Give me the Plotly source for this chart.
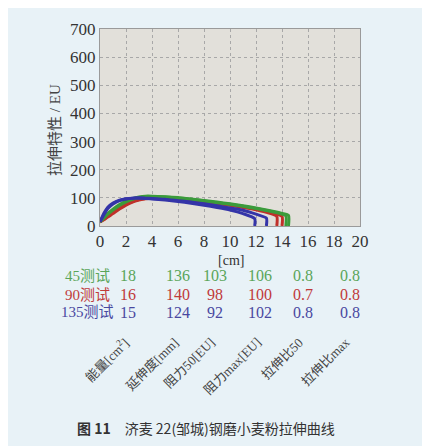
import plotly.graph_objects as go

# ---- curve data ----
green1_x = [0, 0.3, 0.6, 1, 1.5, 2, 2.5, 3, 3.5, 4, 5, 6, 7, 8, 9, 10, 11, 12, 13, 14, 14.5, 14.5]
green1_y = [15, 30, 45, 60, 76, 88, 97, 103, 106, 106, 104, 101, 96, 91, 85, 79, 72, 64, 55, 45, 38, 0]
green2_x = [0, 0.3, 0.6, 1, 1.5, 2, 2.5, 3, 3.5, 4, 5, 6, 7, 8, 9, 10, 11, 12, 13, 14, 14.3, 14.3]
green2_y = [15, 28, 42, 57, 73, 86, 95, 101, 104, 105, 103, 99, 95, 89, 83, 77, 70, 62, 53, 42, 36, 0]

red1_x = [0, 0.3, 0.6, 1, 1.5, 2, 2.5, 3, 3.5, 4, 5, 6, 7, 8, 9, 10, 11, 12, 13, 14, 14]
red1_y = [15, 22, 32, 44, 60, 74, 85, 92, 97, 99, 99, 96, 92, 87, 81, 75, 68, 60, 50, 34, 0]
red2_x = [0, 0.3, 0.6, 1, 1.5, 2, 2.5, 3, 3.5, 4, 5, 6, 7, 8, 9, 10, 11, 12, 13, 13.6, 13.6]
red2_y = [14, 24, 35, 48, 63, 77, 87, 94, 98, 100, 98, 95, 91, 86, 80, 74, 66, 58, 46, 34, 0]

blue1_x = [0, 0.3, 0.6, 1, 1.5, 2, 2.5, 3, 3.5, 4, 5, 6, 7, 8, 9, 10, 11, 12, 12.8, 12.8]
blue1_y = [15, 40, 62, 78, 90, 96, 99, 100, 99, 98, 95, 90, 85, 79, 72, 64, 56, 42, 28, 0]
blue2_x = [0, 0.3, 0.6, 1, 1.5, 2, 2.5, 3, 3.5, 4, 5, 6, 7, 8, 9, 10, 11, 11.9, 11.9]
blue2_y = [15, 45, 67, 82, 92, 97, 99, 99, 98, 96, 92, 87, 81, 74, 66, 57, 44, 26, 0]

# ---- table data ----
test_labels = ["45测试", "90测试", "135测试"]
energy = ["18", "16", "15"]
extensibility = ["136", "140", "124"]
resistance50 = ["103", "98", "92"]
resistance_max = ["106", "100", "102"]
ratio50 = ["0.8", "0.7", "0.8"]
ratio_max = ["0.8", "0.8", "0.8"]
column_labels = ["能量[cm<sup>2</sup>]", "延伸度[mm]", "阻力50[EU]", "阻力max[EU]", "拉伸比50", "拉伸比max"]

x_ticks = [0, 2, 4, 6, 8, 10, 12, 14, 16, 18, 20]
y_ticks = [0, 100, 200, 300, 400, 500, 600, 700]

GREEN = "#3b9b3b"
RED = "#c0302a"
BLUE = "#3434a8"
TXT_COLORS = ["#5aa55a", "#c03a3a", "#4848a0"]

SERIF = "Liberation Serif, Times New Roman, serif"
MIXED = "Liberation Serif, Noto Sans CJK SC, serif"
CJK = "Noto Sans CJK SC"

fig = go.Figure()
for xs, ys, c in [(red1_x, red1_y, RED), (red2_x, red2_y, RED),
                  (green1_x, green1_y, GREEN), (green2_x, green2_y, GREEN),
                  (blue1_x, blue1_y, BLUE), (blue2_x, blue2_y, BLUE)]:
    fig.add_trace(go.Scatter(x=xs, y=ys, mode="lines",
                             line=dict(color=c, width=3, shape="spline", smoothing=0.6),
                             showlegend=False, hoverinfo="skip"))

# page body has an 8px margin -> figure is offset by 8px
OFF = 8
W, H = 422, 438
L, R, T, B = 92, 70, 17, 220
pw = W - L - R
ph = H - T - B


def px(xr):
    return (xr - OFF - L) / pw


def py(yr):
    return (H - B - (yr - OFF)) / ph


def note(text, xr, yr, size, color, family, **kw):
    d = dict(text=text, x=px(xr), y=py(yr), xref="paper", yref="paper", showarrow=False,
             xanchor="center", yanchor="middle", font=dict(family=family, size=size, color=color))
    d.update(kw)
    return d


ann = []
ann.append(note("拉伸特性 / EU", 55, 128, 15, "#444", MIXED, textangle=-90))
ann.append(note("[cm]", 231, 261, 14, "#333", SERIF))

col_x = [128, 178, 215, 260, 303, 350]
row_y = [277, 296, 314]
cols = [energy, extensibility, resistance50, resistance_max, ratio50, ratio_max]
for r, lab in enumerate(test_labels):
    ann.append(note(lab, 87, row_y[r], 15, TXT_COLORS[r], MIXED))
    for c, vals in enumerate(cols):
        ann.append(note(vals[r], col_x[c], row_y[r], 16, TXT_COLORS[r], SERIF))

for c, lab in enumerate(column_labels):
    ann.append(note(lab, col_x[c] + 6, 334, 13, "#444", MIXED,
                    xanchor="right", yanchor="top", textangle=-45))

ann.append(note("<b>图 11</b>　济麦 22(邹城)钢磨小麦粉拉伸曲线", 206, 432, 14, "#333", CJK))

axis_common = dict(showgrid=True, gridcolor="#a8a8a8", griddash="dot", gridwidth=1,
                   zeroline=False, showline=True, linecolor="#9a9a9a", mirror=True,
                   ticks="", tickfont=dict(family=SERIF, size=17, color="#333"))

fig.update_layout(
    width=W, height=H,
    margin=dict(l=L, r=R, t=T, b=B),
    paper_bgcolor="#e8f2f7",
    plot_bgcolor="#e2e0da",
    annotations=ann,
    xaxis=dict(range=[0, 20], tickvals=x_ticks, **axis_common),
    yaxis=dict(range=[0, 700], tickvals=y_ticks, **axis_common),
)

fig.write_html("out.html")
